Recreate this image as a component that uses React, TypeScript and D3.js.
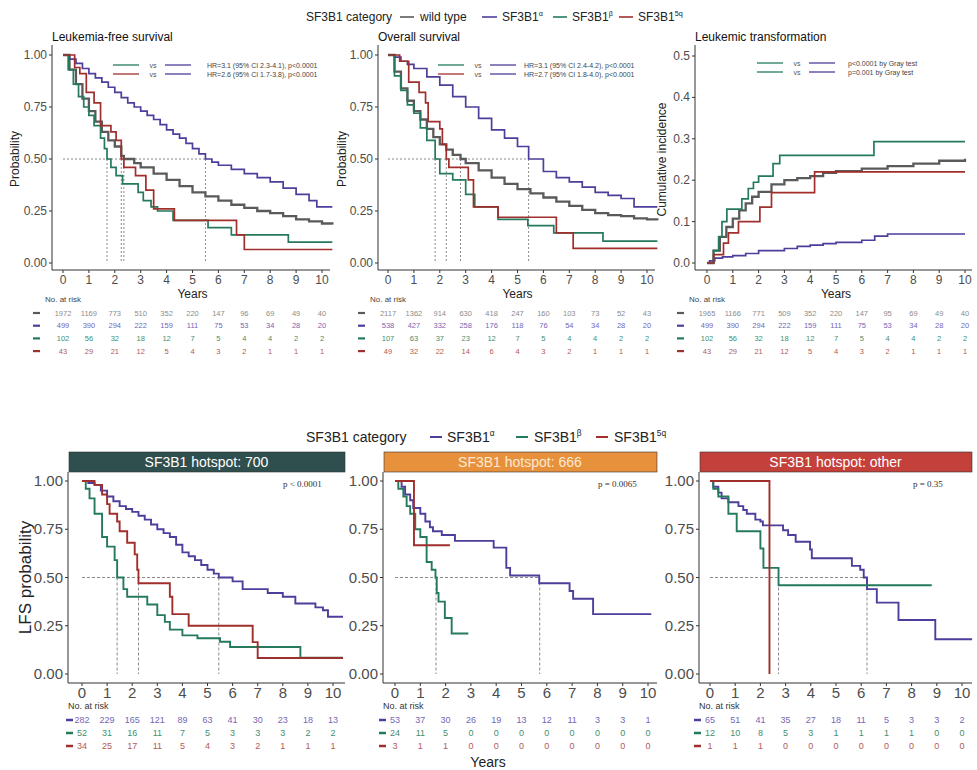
import React from "react";
import * as d3 from "d3";

type Pt = [number, number];

const FONT = "'Liberation Sans', Arial, Helvetica, sans-serif";
const years = [0, 1, 2, 3, 4, 5, 6, 7, 8, 9, 10];

const COL: Record<string, string> = {
  wild: "#5a5a5a",
  alpha: "#4f3d9c",
  beta: "#257a5c",
  q5: "#a02f2c",
};
const RISK_COL: Record<string, string> = {
  wild: "#8c8c8c",
  alpha: "#7566b5",
  beta: "#3f8f70",
  q5: "#b25a57",
};

// ---- Leukemia-free survival (top left)
const lfsWild: Pt[] = [[0, 1], [0.25, 0.93], [0.5, 0.86], [0.75, 0.79], [1, 0.73], [1.25, 0.68], [1.5, 0.63], [1.75, 0.59], [2, 0.56], [2.25, 0.515], [2.35, 0.5], [2.75, 0.48], [3, 0.46], [3.5, 0.43], [4, 0.4], [4.5, 0.37], [5, 0.34], [5.5, 0.32], [6, 0.3], [6.5, 0.28], [7, 0.265], [7.5, 0.25], [8, 0.24], [8.5, 0.225], [9, 0.21], [9.5, 0.2], [10, 0.19], [10.4, 0.185]];
const lfsAlpha: Pt[] = [[0, 1], [0.25, 0.98], [0.5, 0.96], [0.75, 0.935], [1, 0.91], [1.25, 0.89], [1.5, 0.87], [1.75, 0.845], [2, 0.82], [2.25, 0.795], [2.5, 0.77], [2.75, 0.75], [3, 0.73], [3.25, 0.71], [3.5, 0.69], [3.75, 0.665], [4, 0.64], [4.25, 0.62], [4.5, 0.6], [4.75, 0.575], [5, 0.55], [5.25, 0.525], [5.5, 0.5], [5.75, 0.485], [6, 0.47], [6.5, 0.45], [7, 0.43], [7.5, 0.41], [8, 0.39], [8.5, 0.36], [9, 0.33], [9.5, 0.3], [9.8, 0.27], [10.4, 0.27]];
const lfsBeta: Pt[] = [[0, 1], [0.2, 0.93], [0.4, 0.86], [0.6, 0.8], [0.8, 0.75], [1, 0.71], [1.2, 0.66], [1.45, 0.6], [1.6, 0.55], [1.7, 0.5], [1.85, 0.46], [2.05, 0.42], [2.3, 0.38], [2.9, 0.34], [3.1, 0.3], [3.4, 0.27], [3.65, 0.25], [4.25, 0.205], [5.6, 0.17], [6.5, 0.135], [8.7, 0.1], [10.4, 0.1]];
const lfs5q: Pt[] = [[0, 1], [0.45, 0.94], [0.65, 0.91], [0.9, 0.82], [1.2, 0.77], [1.45, 0.66], [1.85, 0.63], [2.05, 0.59], [2.25, 0.5], [2.35, 0.46], [2.8, 0.42], [3.2, 0.35], [3.5, 0.26], [4.3, 0.205], [6.7, 0.135], [7.0, 0.065], [10.4, 0.065]];
const lfsMedians = [1.7, 2.25, 2.35, 5.5];

// ---- Overall survival (top middle)
const osWild: Pt[] = [[0, 1], [0.25, 0.92], [0.5, 0.84], [0.75, 0.78], [1, 0.73], [1.25, 0.69], [1.5, 0.645], [1.75, 0.605], [2, 0.57], [2.25, 0.545], [2.5, 0.52], [2.8, 0.5], [3, 0.48], [3.5, 0.445], [4, 0.41], [4.5, 0.38], [5, 0.355], [5.5, 0.335], [6, 0.315], [6.5, 0.295], [7, 0.275], [7.5, 0.255], [8, 0.24], [8.5, 0.23], [9, 0.225], [9.5, 0.215], [10, 0.21], [10.4, 0.205]];
const osAlpha: Pt[] = [[0, 1], [0.25, 0.99], [0.5, 0.97], [0.75, 0.955], [1, 0.935], [1.5, 0.895], [2, 0.855], [2.5, 0.8], [3, 0.75], [3.5, 0.695], [4, 0.64], [4.5, 0.6], [5, 0.56], [5.43, 0.5], [6, 0.44], [6.5, 0.41], [7, 0.39], [7.5, 0.365], [8, 0.34], [8.5, 0.325], [9, 0.31], [9.5, 0.27], [10.4, 0.27]];
const osBeta: Pt[] = [[0, 1], [0.25, 0.9], [0.5, 0.83], [0.75, 0.76], [1, 0.72], [1.25, 0.65], [1.5, 0.59], [1.82, 0.5], [2, 0.43], [2.5, 0.4], [3, 0.33], [3.35, 0.27], [4.25, 0.21], [5.4, 0.18], [6.4, 0.145], [8.3, 0.105], [10.4, 0.105]];
const os5q: Pt[] = [[0, 1], [0.45, 0.97], [0.8, 0.87], [1.2, 0.82], [1.45, 0.77], [1.55, 0.68], [2, 0.645], [2.1, 0.57], [2.25, 0.5], [2.35, 0.46], [3.1, 0.4], [3.3, 0.27], [4.25, 0.22], [6.5, 0.145], [7.15, 0.07], [10.4, 0.07]];
const osMedians = [1.82, 2.25, 2.8, 5.43];

// ---- Leukemic transformation (top right, cumulative incidence)
const ltWild: Pt[] = [[0, 0], [0.25, 0.03], [0.5, 0.063], [0.75, 0.087], [1, 0.107], [1.25, 0.127], [1.5, 0.144], [1.75, 0.16], [2, 0.172], [2.5, 0.19], [3, 0.2], [3.5, 0.205], [4, 0.21], [4.5, 0.218], [5, 0.222], [6, 0.228], [7, 0.234], [8, 0.24], [9, 0.247], [10, 0.252]];
const ltAlpha: Pt[] = [[0, 0], [0.1, 0.005], [0.3, 0.012], [0.6, 0.015], [1, 0.018], [1.5, 0.023], [2, 0.03], [3, 0.035], [3.5, 0.04], [4, 0.043], [4.5, 0.047], [5, 0.05], [6, 0.055], [6.5, 0.065], [7, 0.07], [10, 0.07]];
const ltBeta: Pt[] = [[0, 0], [0.26, 0.03], [0.45, 0.063], [0.58, 0.1], [0.77, 0.13], [1.35, 0.155], [1.6, 0.18], [1.8, 0.195], [2.0, 0.21], [2.56, 0.24], [2.82, 0.26], [6.47, 0.293], [10, 0.293]];
const lt5q: Pt[] = [[0, 0], [0.26, 0.02], [0.64, 0.048], [0.83, 0.073], [1.22, 0.1], [2.05, 0.135], [2.5, 0.17], [4.17, 0.22], [10, 0.22]];

// ---- numbers at risk, top row
const lfsRisk = {
  wild: [1972, 1169, 773, 510, 352, 220, 147, 96, 69, 49, 40],
  alpha: [499, 390, 294, 222, 159, 111, 75, 53, 34, 28, 20],
  beta: [102, 56, 32, 18, 12, 7, 5, 4, 4, 2, 2],
  q5: [43, 29, 21, 12, 5, 4, 3, 2, 1, 1, 1],
};
const osRisk = {
  wild: [2117, 1362, 914, 630, 418, 247, 160, 103, 73, 52, 43],
  alpha: [538, 427, 332, 258, 176, 118, 76, 54, 34, 28, 20],
  beta: [107, 63, 37, 23, 12, 7, 5, 4, 4, 2, 2],
  q5: [49, 32, 22, 14, 6, 4, 3, 2, 1, 1, 1],
};
const ltRisk = {
  wild: [1965, 1166, 771, 509, 352, 220, 147, 95, 69, 49, 40],
  alpha: [499, 390, 294, 222, 159, 111, 75, 53, 34, 28, 20],
  beta: [102, 56, 32, 18, 12, 7, 5, 4, 4, 2, 2],
  q5: [43, 29, 21, 12, 5, 4, 3, 2, 1, 1, 1],
};

// ---- LFS by hotspot (bottom row)
const h700Alpha: Pt[] = [[0, 1], [0.25, 0.99], [0.5, 0.98], [0.75, 0.95], [1, 0.92], [1.25, 0.895], [1.5, 0.87], [1.75, 0.855], [2, 0.84], [2.25, 0.82], [2.5, 0.8], [2.75, 0.775], [3, 0.75], [3.25, 0.73], [3.5, 0.71], [3.75, 0.67], [4, 0.63], [4.25, 0.61], [4.5, 0.59], [4.75, 0.565], [5, 0.54], [5.25, 0.52], [5.45, 0.5], [6, 0.48], [6.4, 0.44], [7.4, 0.42], [8, 0.4], [8.5, 0.365], [9.3, 0.345], [9.6, 0.33], [9.8, 0.297], [10.4, 0.297]];
const h700Beta: Pt[] = [[0, 1], [0.15, 0.96], [0.3, 0.91], [0.5, 0.83], [0.8, 0.71], [1, 0.66], [1.3, 0.59], [1.4, 0.5], [1.65, 0.44], [1.8, 0.4], [2.6, 0.36], [3, 0.305], [3.3, 0.27], [3.5, 0.23], [4, 0.2], [4.6, 0.185], [5.5, 0.167], [5.9, 0.14], [8.7, 0.085], [10.4, 0.085]];
const h7005q: Pt[] = [[0, 1], [0.5, 0.98], [0.8, 0.93], [1.0, 0.88], [1.1, 0.83], [1.4, 0.79], [1.5, 0.74], [1.8, 0.68], [2.1, 0.62], [2.2, 0.54], [2.25, 0.47], [3.5, 0.4], [3.6, 0.31], [4.25, 0.25], [6.8, 0.165], [7.0, 0.083], [10.4, 0.083]];
const h700Medians = [1.4, 2.25, 5.45];

const h666Alpha: Pt[] = [[0, 1], [0.26, 0.97], [0.4, 0.93], [0.6, 0.9], [0.72, 0.86], [1, 0.83], [1.2, 0.79], [1.38, 0.76], [1.5, 0.74], [1.85, 0.72], [2.37, 0.69], [3.9, 0.655], [4.4, 0.55], [4.55, 0.51], [5.7, 0.47], [6.9, 0.43], [7.04, 0.39], [7.83, 0.31], [10.13, 0.31]];
const h666Beta: Pt[] = [[0, 1], [0.13, 0.96], [0.33, 0.92], [0.46, 0.87], [0.6, 0.83], [0.8, 0.75], [1, 0.71], [1.25, 0.58], [1.45, 0.54], [1.6, 0.5], [1.65, 0.42], [1.72, 0.375], [1.97, 0.29], [2.24, 0.21], [2.9, 0.21]];
const h6665q: Pt[] = [[0, 1], [0.75, 0.667], [2.17, 0.667]];
const h666Medians = [1.62, 5.72];

const hOtherAlpha: Pt[] = [[0, 1], [0.13, 0.97], [0.33, 0.94], [0.46, 0.91], [0.73, 0.89], [1.13, 0.87], [1.32, 0.85], [1.46, 0.83], [1.8, 0.8], [2, 0.79], [2.1, 0.77], [2.9, 0.745], [3.1, 0.72], [3.4, 0.685], [3.97, 0.645], [4.04, 0.6], [5.63, 0.56], [5.96, 0.54], [6.1, 0.5], [6.23, 0.44], [6.62, 0.37], [7.48, 0.28], [8.94, 0.18], [10.4, 0.18]];
const hOtherBeta: Pt[] = [[0, 1], [0.13, 0.96], [0.33, 0.92], [0.73, 0.83], [1.06, 0.74], [2.0, 0.65], [2.12, 0.55], [2.72, 0.46], [8.8, 0.46]];
const hOther5q: Pt[] = [[0, 1], [2.36, 0]];
const hOtherMedians = [2.72, 6.23];

const h700Risk = {
  alpha: [282, 229, 165, 121, 89, 63, 41, 30, 23, 18, 13],
  beta: [52, 31, 16, 11, 7, 5, 3, 3, 3, 2, 2],
  q5: [34, 25, 17, 11, 5, 4, 3, 2, 1, 1, 1],
};
const h666Risk = {
  alpha: [53, 37, 30, 26, 19, 13, 12, 11, 3, 3, 1],
  beta: [24, 11, 5, 0, 0, 0, 0, 0, 0, 0, 0],
  q5: [3, 1, 1, 0, 0, 0, 0, 0, 0, 0, 0],
};
const hOtherRisk = {
  alpha: [65, 51, 41, 35, 27, 18, 11, 5, 3, 3, 2],
  beta: [12, 10, 8, 5, 3, 1, 1, 1, 1, 0, 0],
  q5: [1, 1, 1, 0, 0, 0, 0, 0, 0, 0, 0],
};

const topPanels = [
  {
    title: "Leukemia-free survival", yLabel: "Probability", yLabelX: 19,
    x0: 63, x10: 322, axisX: 52, right: 330, yMax: 1, yTop: 55,
    yTicks: [0, 0.25, 0.5, 0.75, 1], fmt: ".2f",
    curves: { wild: lfsWild, alpha: lfsAlpha, beta: lfsBeta, q5: lfs5q },
    medians: lfsMedians, risk: lfsRisk,
    notes: [
      { a: "beta", b: "alpha", text: "HR=3.1 (95% CI 2.3-4.1), p<0.0001" },
      { a: "q5", b: "alpha", text: "HR=2.6 (95% CI 1.7-3.8), p<0.0001" },
    ],
    noteY: 65, textDx: 144,
  },
  {
    title: "Overall survival", yLabel: "Probability", yLabelX: 346,
    x0: 388, x10: 647, axisX: 378, right: 655, yMax: 1, yTop: 55,
    yTicks: [0, 0.25, 0.5, 0.75, 1], fmt: ".2f",
    curves: { wild: osWild, alpha: osAlpha, beta: osBeta, q5: os5q },
    medians: osMedians, risk: osRisk,
    notes: [
      { a: "beta", b: "alpha", text: "HR=3.1 (95% CI 2.4-4.2), p<0.0001" },
      { a: "q5", b: "alpha", text: "HR=2.7 (95% CI 1.8-4.0), p<0.0001" },
    ],
    noteY: 65, textDx: 136,
  },
  {
    title: "Leukemic transformation", yLabel: "Cumulative incidence", yLabelX: 666,
    x0: 707, x10: 965, axisX: 695, right: 972, yMax: 0.5, yTop: 56,
    yTicks: [0, 0.1, 0.2, 0.3, 0.4, 0.5], fmt: ".1f",
    curves: { wild: ltWild, alpha: ltAlpha, beta: ltBeta, q5: lt5q },
    medians: [] as number[], risk: ltRisk,
    notes: [
      { a: "beta", b: "alpha", text: "p<0.0001 by Gray test" },
      { a: "beta", b: "alpha", text: " p=0.001 by Gray test" },
    ],
    noteY: 63, textDx: 141,
  },
];

const bottomPanels = [
  {
    strip: "SF3B1 hotspot: 700", stripColor: "#2f4e4e", stripText: "#ffffff",
    x0: 82, x10: 333, axisX: 68, right: 345,
    curves: { alpha: h700Alpha, beta: h700Beta, q5: h7005q },
    medians: h700Medians, risk: h700Risk, p: "p < 0.0001", pX: 283,
  },
  {
    strip: "SF3B1 hotspot: 666", stripColor: "#e8913c", stripText: "#fbe9d4",
    x0: 395, x10: 648, axisX: 383, right: 657,
    curves: { alpha: h666Alpha, beta: h666Beta, q5: h6665q },
    medians: h666Medians, risk: h666Risk, p: "p = 0.0065", pX: 598,
  },
  {
    strip: "SF3B1 hotspot: other", stripColor: "#c4403b", stripText: "#ffffff",
    x0: 710, x10: 962, axisX: 699, right: 972,
    curves: { alpha: hOtherAlpha, beta: hOtherBeta, q5: hOther5q },
    medians: hOtherMedians, risk: hOtherRisk, p: "p = 0.35", pX: 913,
  },
];

function Sf3b1Label({ x, y, size, sup }: { x: number; y: number; size: number; sup: string }) {
  return (
    <text x={x} y={y} fontSize={size} fill="#222">
      SF3B1
      <tspan fontSize={size * 0.6} dy={-size * 0.45}>{sup}</tspan>
    </text>
  );
}

function TopPanel({ p }: { p: (typeof topPanels)[number] }) {
  const x = d3.scaleLinear().domain([0, 10]).range([p.x0, p.x10]);
  const y = d3.scaleLinear().domain([0, p.yMax]).range([263, p.yTop]);
  const line = d3.line<Pt>().x((d) => x(d[0])).y((d) => y(d[1])).curve(d3.curveStepAfter);
  const fmt = d3.format(p.fmt);
  const keys = ["wild", "alpha", "beta", "q5"];
  const maxMed = p.medians.length ? d3.max(p.medians)! : 0;
  return (
    <g>
      <text x={p.axisX} y={41} fontSize={12} fill="#111">{p.title}</text>
      {/* medians */}
      {p.medians.length > 0 && (
        <g stroke="#8a8a8a" strokeDasharray="2,2" strokeWidth={1}>
          <line x1={x(0)} x2={x(maxMed)} y1={y(0.5)} y2={y(0.5)} />
          {p.medians.map((m, i) => (
            <line key={i} x1={x(m)} x2={x(m)} y1={y(0.5)} y2={y(0)} />
          ))}
        </g>
      )}
      {keys.map((k) => (
        <path key={k} d={line((p.curves as any)[k])!} fill="none" stroke={COL[k]}
          strokeWidth={k === "wild" ? 2.3 : 1.7} />
      ))}
      {/* axes */}
      <line x1={p.axisX} x2={p.axisX} y1={45} y2={270} stroke="#333" />
      <line x1={p.axisX} x2={p.right} y1={270} y2={270} stroke="#333" />
      {p.yTicks.map((t) => (
        <g key={t}>
          <line x1={p.axisX - 3} x2={p.axisX} y1={y(t)} y2={y(t)} stroke="#333" />
          <text x={p.axisX - 5} y={y(t) + 4} fontSize={12} textAnchor="end" fill="#4d4d4d">{fmt(t)}</text>
        </g>
      ))}
      {years.map((t) => (
        <g key={t}>
          <line x1={x(t)} x2={x(t)} y1={270} y2={273} stroke="#333" />
          <text x={x(t)} y={284} fontSize={12} textAnchor="middle" fill="#4d4d4d">{t}</text>
        </g>
      ))}
      <text x={(p.x0 + p.x10) / 2} y={298} fontSize={12} textAnchor="middle" fill="#222">Years</text>
      <text
        transform={`translate(${p.yLabelX},${(y(0) + y(p.yMax)) / 2}) rotate(-90)`}
        fontSize={12} textAnchor="middle" fill="#222"
      >
        {p.yLabel}
      </text>
      {/* comparison notes */}
      {p.notes.map((n, i) => {
        const yy = p.noteY + i * 9;
        return (
          <g key={i}>
            <line x1={p.x0 + 50} x2={p.x0 + 76} y1={yy} y2={yy} stroke={COL[n.a]} strokeWidth={1.3} />
            <text x={p.x0 + 90} y={yy + 2.5} fontSize={7} textAnchor="middle" fill="#555">vs</text>
            <line x1={p.x0 + 102} x2={p.x0 + 128} y1={yy} y2={yy} stroke={COL[n.b]} strokeWidth={1.3} />
            <text x={p.x0 + p.textDx} y={yy + 2.5} fontSize={7} fill="#444">{n.text}</text>
          </g>
        );
      })}
      {/* risk table */}
      <text x={p.x0 - 18} y={302} fontSize={8} fill="#444">No. at risk</text>
      {keys.map((k, r) => {
        const yy = 313 + r * 12.7;
        return (
          <g key={k}>
            <line x1={p.x0 - 30} x2={p.x0 - 23} y1={yy} y2={yy} stroke={COL[k]} strokeWidth={2.2} />
            {(p.risk as any)[k].map((v: number, i: number) => (
              <text key={i} x={x(years[i])} y={yy + 2.5} fontSize={7.5} textAnchor="middle" fill={RISK_COL[k]}>{v}</text>
            ))}
          </g>
        );
      })}
    </g>
  );
}

function BottomPanel({ p, showY }: { p: (typeof bottomPanels)[number]; showY: boolean }) {
  const x = d3.scaleLinear().domain([0, 10]).range([p.x0, p.x10]);
  const y = d3.scaleLinear().domain([0, 1]).range([674, 481]);
  const line = d3.line<Pt>().x((d) => x(d[0])).y((d) => y(d[1])).curve(d3.curveStepAfter);
  const keys = ["alpha", "beta", "q5"];
  const maxMed = d3.max(p.medians)!;
  const yTicks = [0, 0.25, 0.5, 0.75, 1];
  return (
    <g>
      <rect x={p.axisX + 1} y={452} width={p.right - p.axisX - 1} height={20} fill={p.stripColor} stroke="#333" strokeWidth={0.6} />
      <text x={(p.axisX + p.right) / 2} y={467} fontSize={14} textAnchor="middle" fill={p.stripText}>{p.strip}</text>
      <g stroke="#8a8a8a" strokeDasharray="3,2" strokeWidth={1}>
        <line x1={x(0)} x2={x(maxMed)} y1={y(0.5)} y2={y(0.5)} />
        {p.medians.map((m, i) => (
          <line key={i} x1={x(m)} x2={x(m)} y1={y(0.5)} y2={y(0)} />
        ))}
      </g>
      {keys.map((k) => (
        <path key={k} d={line((p.curves as any)[k])!} fill="none" stroke={COL[k]} strokeWidth={1.9} />
      ))}
      <text x={p.pX} y={487} fontSize={9} fill="#333" fontFamily="'Liberation Serif', serif">{p.p}</text>
      <line x1={p.axisX} x2={p.axisX} y1={472} y2={683} stroke="#333" />
      <line x1={p.axisX} x2={p.right} y1={683} y2={683} stroke="#333" />
      {yTicks.map((t) => (
        <g key={t}>
          <line x1={p.axisX - 3} x2={p.axisX} y1={y(t)} y2={y(t)} stroke="#333" />
          <text x={p.axisX - 5} y={y(t) + 5} fontSize={15} textAnchor="end" fill="#4d4d4d">{d3.format(".2f")(t)}</text>
        </g>
      ))}
      {years.map((t) => (
        <g key={t}>
          <line x1={x(t)} x2={x(t)} y1={683} y2={686} stroke="#333" />
          <text x={x(t)} y={698} fontSize={15} textAnchor="middle" fill="#4d4d4d">{t}</text>
        </g>
      ))}
      {showY && (
        <text transform={`translate(31,${(y(0) + y(1)) / 2}) rotate(-90)`} fontSize={17} textAnchor="middle" fill="#222">
          LFS probability
        </text>
      )}
      <text x={p.axisX} y={709} fontSize={9} fill="#333">No. at risk</text>
      {keys.map((k, r) => {
        const yy = 720 + r * 13;
        return (
          <g key={k}>
            <line x1={p.x0 - 16} x2={p.x0 - 9} y1={yy} y2={yy} stroke={COL[k]} strokeWidth={2.5} />
            {(p.risk as any)[k].map((v: number, i: number) => (
              <text key={i} x={x(years[i])} y={yy + 3} fontSize={9} textAnchor="middle" fill={RISK_COL[k]}>{v}</text>
            ))}
          </g>
        );
      })}
    </g>
  );
}

export default function App() {
  return (
    <svg
      width={977}
      height={770}
      style={{ position: "absolute", left: 0, top: 0, background: "#fff" }}
      fontFamily={FONT}
    >
      {/* top legend */}
      <g>
        <text x={306} y={21} fontSize={12} fill="#222">SF3B1 category</text>
        <line x1={400} x2={414} y1={17} y2={17} stroke={COL.wild} strokeWidth={1.6} />
        <text x={420} y={21} fontSize={12} fill="#222">wild type</text>
        <line x1={482} x2={497} y1={17} y2={17} stroke={COL.alpha} strokeWidth={1.6} />
        <Sf3b1Label x={502} y={21} size={12} sup="α" />
        <line x1={553} x2={567} y1={17} y2={17} stroke={COL.beta} strokeWidth={1.6} />
        <Sf3b1Label x={572} y={21} size={12} sup="β" />
        <line x1={619} x2={633} y1={17} y2={17} stroke={COL.q5} strokeWidth={1.6} />
        <Sf3b1Label x={638} y={21} size={12} sup="5q" />
      </g>
      {topPanels.map((p, i) => (
        <TopPanel key={i} p={p} />
      ))}
      {/* bottom legend */}
      <g>
        <text x={306} y={442} fontSize={14} fill="#222">SF3B1 category</text>
        <line x1={430} x2={442} y1={437} y2={437} stroke={COL.alpha} strokeWidth={2} />
        <Sf3b1Label x={447} y={442} size={14} sup="α" />
        <line x1={516} x2={528} y1={437} y2={437} stroke={COL.beta} strokeWidth={2} />
        <Sf3b1Label x={534} y={442} size={14} sup="β" />
        <line x1={596} x2={608} y1={437} y2={437} stroke={COL.q5} strokeWidth={2} />
        <Sf3b1Label x={614} y={442} size={14} sup="5q" />
      </g>
      {bottomPanels.map((p, i) => (
        <BottomPanel key={i} p={p} showY={i === 0} />
      ))}
      <text x={488} y={767} fontSize={14} textAnchor="middle" fill="#222">Years</text>
    </svg>
  );
}
